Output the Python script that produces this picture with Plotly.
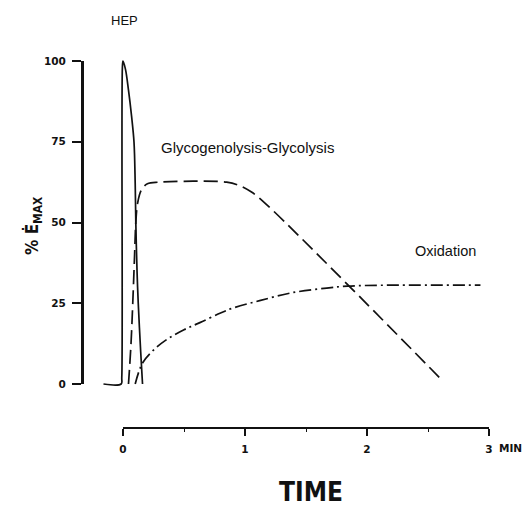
import plotly.graph_objects as go

# ---- data (time in min, % of max energy rate) ----
hep_t = [-0.16, -0.015, -0.01, -0.005, 0.0, 0.02, 0.045, 0.07, 0.09, 0.10, 0.105, 0.115, 0.125, 0.145, 0.16]
hep_v = [0, 0, 2, 98, 100, 97.5, 91, 83, 75, 62, 50, 35, 25, 10, 0]

gly_t = [0.045, 0.065, 0.08, 0.095, 0.105, 0.12, 0.15, 0.2, 0.3, 0.85, 0.95, 1.05, 1.15, 2.62]
gly_v = [0, 12, 25, 40, 50, 56, 60, 62, 62.5, 62.5, 61.5, 59.5, 56.5, 1]

ox_t = [0.1, 0.16, 0.25, 0.36, 0.5, 0.63, 0.8, 0.9, 1.12, 1.39, 1.67, 1.84, 2.2, 2.93]
ox_v = [0, 6.5, 10.5, 13.8, 16.8, 19, 22, 23.5, 25.8, 28.3, 29.7, 30.3, 30.6, 30.6]

x_ticks = [0, 1, 2, 3]
x_ticktext = ["0", "1", "2", "3"]
y_ticks = [0, 25, 50, 75, 100]

# ---- layout geometry (pixels) ----
W, H = 527, 509
X0PX, PXPERX = 123, 122.0
Y0PX, Y100PX = 384, 61
PXPERY = (Y0PX - Y100PX) / 100.0
XAXIS_Y = 428
YAXIS_X = 82


def px_x(p):
    return (p - X0PX) / PXPERX


def px_y(p):
    return (Y0PX - p) / PXPERY


LINE = dict(color="#111111", width=1.7)

fig = go.Figure()
fig.add_trace(go.Scatter(x=hep_t, y=hep_v, mode="lines", line=dict(**LINE, dash="solid"),
                         line_shape="spline", showlegend=False, hoverinfo="skip"))
fig.add_trace(go.Scatter(x=gly_t, y=gly_v, mode="lines", line=dict(**LINE, dash="14px,6px"),
                         line_shape="spline", showlegend=False, hoverinfo="skip"))
fig.add_trace(go.Scatter(x=ox_t, y=ox_v, mode="lines", line=dict(**LINE, dash="12px,4px,2px,4px"),
                         line_shape="spline", showlegend=False, hoverinfo="skip"))
# empty trace to carry the visible axes
fig.add_trace(go.Scatter(x=[None], y=[None], xaxis="x2", yaxis="y2", mode="lines",
                         showlegend=False, hoverinfo="skip"))

tickfont = dict(family="DejaVu Sans", size=10.5, color="#111111", weight="bold")

fig.update_layout(
    width=W, height=H,
    margin=dict(l=0, r=0, t=0, b=0, autoexpand=False),
    paper_bgcolor="white", plot_bgcolor="rgba(0,0,0,0)",
    xaxis=dict(domain=[0, 1], range=[px_x(0), px_x(W)], visible=False, fixedrange=True, automargin=False),
    yaxis=dict(domain=[0, 1], range=[px_y(H), px_y(0)], visible=False, fixedrange=True, automargin=False),
    xaxis2=dict(domain=[X0PX / W, (X0PX + 3 * PXPERX) / W], range=[0, 3],
                anchor="free", position=(H - XAXIS_Y) / H, automargin=False,
                showline=True, linecolor="#111111", linewidth=2,
                ticks="outside", ticklen=7, tickwidth=1.5, tickcolor="#111111",
                tickvals=x_ticks, ticktext=x_ticktext, tickfont=tickfont,
                ticklabelstandoff=4,
                minor=dict(ticks="outside", ticklen=3, tickwidth=1.2, tickcolor="#111111", dtick=0.5, tick0=0),
                showgrid=False, zeroline=False),
    yaxis2=dict(domain=[(H - Y0PX) / H, (H - Y100PX) / H], range=[0, 100],
                anchor="free", position=YAXIS_X / W, automargin=False,
                showline=True, linecolor="#111111", linewidth=3,
                ticks="outside", ticklen=9, tickwidth=1.5, tickcolor="#111111",
                tickvals=y_ticks, tickfont=tickfont, ticklabelstandoff=4,
                showgrid=False, zeroline=False),
)

textfont = dict(family="Liberation Sans", color="#111111")
fig.add_annotation(x=px_x(124), y=px_y(20), xref="x", yref="y", text="HEP", showarrow=False,
                   font=dict(**textfont, size=13), xanchor="center", yanchor="middle")
fig.add_annotation(x=px_x(159), y=px_y(147), xref="x", yref="y", text="Glycogenolysis-Glycolysis",
                   showarrow=False, font=dict(**textfont, size=15), xanchor="left", yanchor="middle")
fig.add_annotation(x=px_x(413), y=px_y(251), xref="x", yref="y", text="Oxidation",
                   showarrow=False, font=dict(**textfont, size=14.5), xanchor="left", yanchor="middle")
fig.add_annotation(x=px_x(497), y=px_y(448), xref="x", yref="y", text="MIN",
                   showarrow=False, font=tickfont, xanchor="left", yanchor="middle")
fig.add_annotation(x=px_x(311), y=px_y(492), xref="x", yref="y", text="<b>TIME</b>",
                   showarrow=False, font=dict(family="DejaVu Sans Condensed", size=26, color="#111111"),
                   xanchor="center", yanchor="middle")
fig.add_annotation(x=px_x(33), y=px_y(226), xref="x", yref="y", text="<b>% Ė<sub>MAX</sub></b>",
                   showarrow=False, textangle=-90,
                   font=dict(family="DejaVu Sans Condensed", size=17, color="#111111"),
                   xanchor="center", yanchor="middle")

fig.write_html("out.html")
